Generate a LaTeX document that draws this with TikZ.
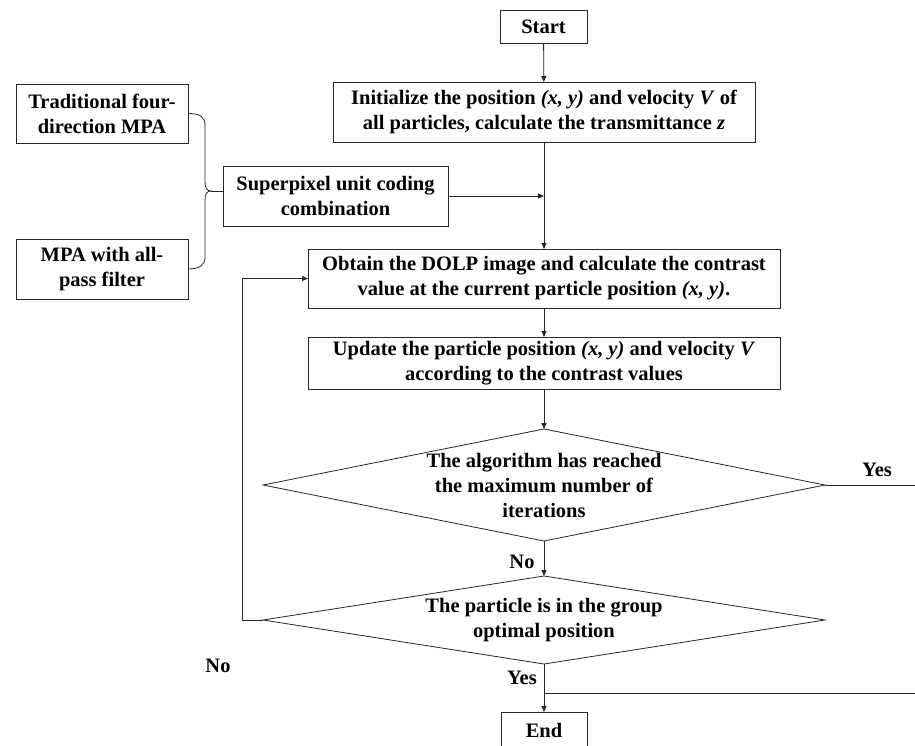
\documentclass[tikz,border=0pt]{standalone}
\usepackage{fontspec}
\setmainfont{Liberation Serif}
\usetikzlibrary{shapes.geometric,arrows.meta}
\begin{document}
\begin{tikzpicture}[x=1pt,y=-1pt,
  font=\fontsize{20.5}{25}\selectfont\bfseries,
  box/.style={draw=black!85, line width=0.8pt, inner sep=0pt, outer sep=0pt, align=center},
  dia/.style={draw=black!85, line width=0.8pt, diamond, inner sep=0pt, outer sep=0pt},
  txt/.style={align=center, inner sep=0pt},
  line/.style={draw=black!85, line width=0.8pt},
  arr/.style={line, -{Triangle[length=6pt,width=5pt]}},
  lab/.style={inner sep=0pt}
]
\clip (0,0) rectangle (915,745);
\fill[white] (0,0) rectangle (915,745);

\node[box, minimum width=87pt, minimum height=33pt] (start) at (543.5,26.5) {Start};
\node[box, minimum width=422pt, minimum height=60pt] (init) at (544,112) {Initialize the position \textit{(x, y)} and velocity \textit{V} of\\all particles, calculate the transmittance \textit{z}};
\node[box, minimum width=225pt, minimum height=60pt] (super) at (335.5,196) {Superpixel unit coding\\combination};
\node[box, minimum width=172pt, minimum height=59pt] (trad) at (102,113.5) {Traditional four-\\direction MPA};
\node[box, minimum width=172pt, minimum height=60pt] (mpa) at (102,269) {MPA with all-\\pass filter};
\node[box, minimum width=472pt, minimum height=59pt] (dolp) at (544,278.5) {Obtain the DOLP image and calculate the contrast\\value at the current particle position \textit{(x, y)}.};
\node[box, minimum width=472pt, minimum height=52pt] (upd) at (544,363) {Update the particle position \textit{(x, y)} and velocity \textit{V}\\according to the contrast values};
\node[dia, minimum width=562pt, minimum height=112pt] (d1) at (544,485) {};
\node[txt] (d1t) at (d1.center) {The algorithm has reached\\the maximum number of\\iterations};
\node[dia, minimum width=562pt, minimum height=88pt] (d2) at (544,620) {};
\node[txt] (d2t) at (d2.center) {The particle is in the group\\optimal position};
\node[box, minimum width=86pt, minimum height=36pt] (end) at (544,730) {End};

% labels
\node[lab] (yes1) at (877,470) {Yes};
\node[lab] (no1) at (522,562) {No};
\node[lab] (yes2) at (522,678) {Yes};
\node[lab] (no2) at (218,666) {No};

% main flow
\draw[arr] (start) -- (init);
\draw[arr] (init) -- (dolp);
\draw[arr] (super.east) -- (init.south |- super.east);
\draw[arr] (dolp) -- (upd);
\draw[arr] (upd) -- (d1);
\draw[arr] (d1) -- (d2);
\draw[arr] (d2) -- (end);

% right exits
\coordinate (r1) at (915,485);
\draw[line] (d1.east) -- (r1);
\coordinate (r2) at (915,693);
\draw[line] (d2.south |- r2) -- (r2);

% feedback loop
\coordinate (fb) at (242,620);
\draw[arr] (d2.west) -- (fb) |- (dolp.west);

% brace
\coordinate (tip) at (211,191);
\draw[line] (trad.east) .. controls +(12,0) and +(0,-8) .. (205,125) -- (205,182)
  .. controls +(0,6) and +(-4,0) .. (tip)
  .. controls +(-4,0) and +(0,-6) .. (205,200) -- (205,257)
  .. controls +(0,8) and +(12,0) .. (mpa.east);
\draw[line] (tip) -- (tip -| super.west);
\end{tikzpicture}
\end{document}
